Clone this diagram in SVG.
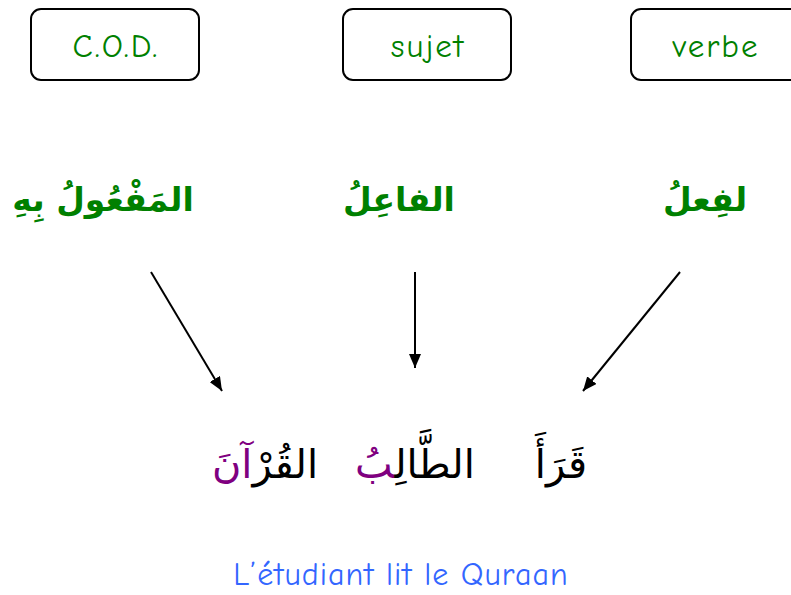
<svg xmlns="http://www.w3.org/2000/svg" width="791" height="595" viewBox="0 0 791 595">
<defs>
<marker id="ah" viewBox="0 0 14 12" refX="14" refY="6" markerWidth="14" markerHeight="12" markerUnits="userSpaceOnUse" orient="auto"><path d="M0,0 L14,6 L0,12 z" fill="#000"/></marker>
<style>
.box{fill:#fff;stroke:#000;stroke-width:2}
.lbl{font-family:"Comic Neue","Liberation Sans",sans-serif;font-size:33px;letter-spacing:2px;fill:#008000;text-anchor:middle}
.ar{font-family:"DejaVu Sans",sans-serif;font-weight:bold;font-size:33px;fill:#008000;text-anchor:middle;direction:rtl}
.ar2{font-family:"DejaVu Sans",sans-serif;font-size:40px;fill:#000;text-anchor:middle;direction:rtl}
.con{stroke:#000;stroke-width:2;fill:none}
</style>
</defs>
<rect width="791" height="595" fill="#fff"/>
<g id="n-cod"><rect class="box" x="31" y="9" width="168" height="71" rx="10"/><text class="lbl" x="116" y="57">C.O.D.</text></g>
<g id="n-sujet"><rect class="box" x="343" y="9" width="168" height="71" rx="10"/><text class="lbl" x="428" y="57">sujet</text></g>
<g id="n-verbe"><rect class="box" x="631" y="9" width="180" height="71" rx="10"/><text class="lbl" x="716" y="57">verbe</text></g>
<g id="n-mafoul"><text class="ar" x="103" y="211">المَفْعُولُ بِهِ</text></g>
<g id="n-fail"><text class="ar" x="399" y="211">الفاعِلُ</text></g>
<g id="n-fil"><text class="ar" x="705" y="211">لفِعلُ</text></g>
<g id="n-phrase">
<text class="ar2" x="561" y="478">قَرَأَ</text>
<text class="ar2" x="415" y="478">الطَّالِ<tspan fill="#800080">بُ</tspan></text>
<text class="ar2" x="265" y="478">القُرْ<tspan fill="#800080">آنَ</tspan></text>
</g>
<g id="connectors">
<line class="con" x1="151" y1="272" x2="222" y2="391" marker-end="url(#ah)"/>
<line class="con" x1="415" y1="272" x2="415" y2="368" marker-end="url(#ah)"/>
<line class="con" x1="680" y1="272" x2="583" y2="391" marker-end="url(#ah)"/>
</g>
<text x="401" y="585" font-family="Comic Neue, Liberation Sans, sans-serif" font-size="32" letter-spacing="1" fill="#3366ff" text-anchor="middle">L’étudiant lit le Quraan</text>
</svg>
